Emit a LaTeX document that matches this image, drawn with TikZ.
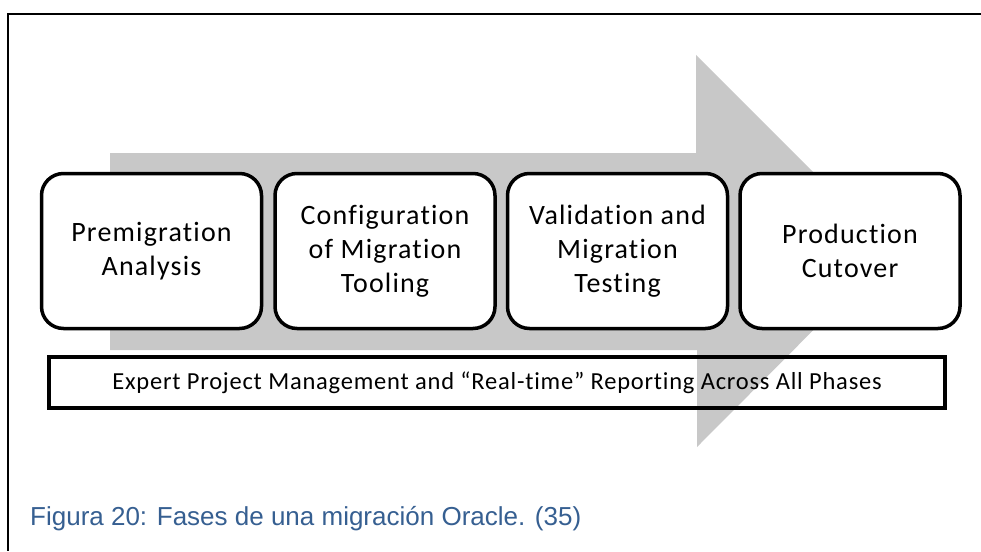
\documentclass[tikz,border=0pt]{standalone}
\usepackage{fontspec}
\newfontfamily\boxfont[LetterSpace=4.2,Ligatures={NoCommon}]{Carlito}
\newfontfamily\barfont[LetterSpace=3.2,Ligatures={NoCommon}]{Carlito}
\newfontfamily\capfont{Liberation Sans}
\definecolor{arrowgray}{RGB}{200,200,200}
\definecolor{captionblue}{RGB}{54,95,145}
\tikzset{
  phase/.style={draw=black, line width=3.5pt, rounded corners=22pt, fill=white,
    minimum width=220pt, minimum height=155pt, inner sep=0pt, align=center,
    font=\boxfont\fontsize{28}{34}\selectfont},
  bar/.style={draw=black, line width=4pt, minimum width=896pt, minimum height=51pt,
    inner sep=0pt, font=\barfont\fontsize{24.5}{30}\selectfont},
  frame/.style={draw=black, line width=2pt},
}
\begin{document}
\begin{tikzpicture}[x=1pt,y=-1pt]
  \useasboundingbox (0,0) rectangle (981,551);
  % page frame (top and left edges)
  \coordinate (ftl) at (8,14);
  \coordinate (ftr) at (981,14);
  \coordinate (fbl) at (8,551);
  \draw[frame] (ftr) -- (ftl) -- (fbl);
  % large background arrow
  \fill[arrowgray] (110,153) -- (696,153) -- (696,55) -- (892,251)
    -- (697,447) -- (697,350) -- (110,350) -- cycle;
  % bottom bar
  \node[bar] (pm) at (497,382.5)
    {Expert Project Management and “Real-time” Reporting Across All Phases};
  % phases
  \node[phase] (p1) at (151.5,251) {Premigration\\Analysis};
  \node[phase] (p2) at (385,251) {Configuration\\of Migration\\Tooling};
  \node[phase] (p3) at (617.5,251) {Validation and\\Migration\\Testing};
  \node[phase] (p4) at (850,251) {Production\\Cutover};
  % caption
  \node[anchor=base west, inner sep=0pt, text=captionblue,
    font=\capfont\fontsize{26}{31}\selectfont] (cap) at (30,525)
    {Figura 20: Fases de una migración Oracle. (35)};
\end{tikzpicture}
\end{document}
